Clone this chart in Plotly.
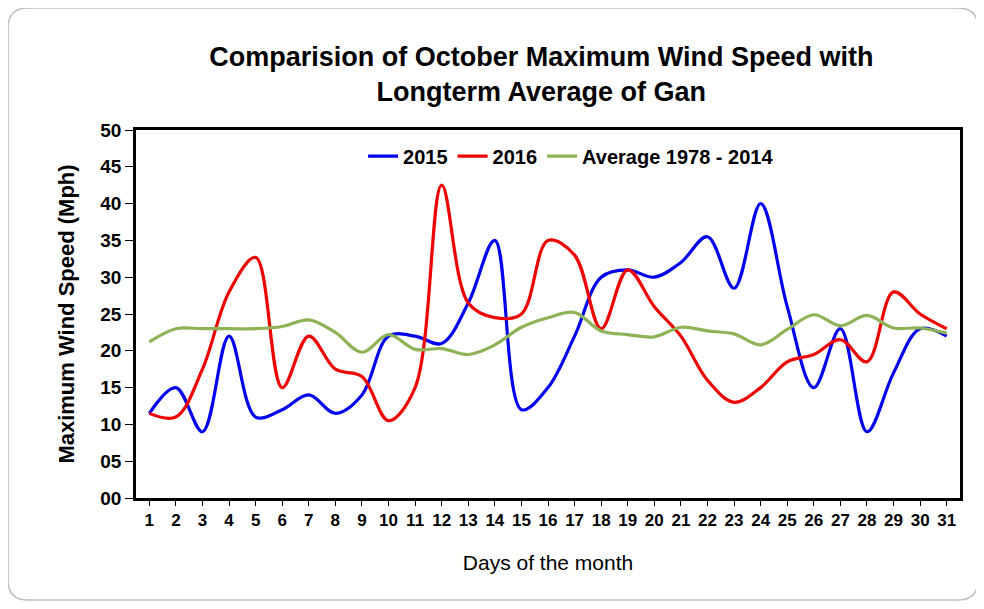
import plotly.graph_objects as go

days = list(range(1, 32))
y2015 = [11.5, 15, 9, 22, 11, 12, 14, 11.5, 14, 22, 22, 21, 26.5, 35, 12, 15, 22, 30, 31, 30,
         32, 35.5, 28.5, 40, 26, 15, 23, 9, 17, 23, 22]
y2016 = [11.5, 11, 17.5, 28, 32.7, 15, 22, 17.5, 16.5, 10.5, 15, 42.5, 26.5, 24.5, 25, 35, 33,
         23, 31, 26, 22, 16, 13, 15, 18.5, 19.5, 21.5, 18.5, 28, 25, 23]
yavg = [21.2, 23, 23, 23, 23, 23.3, 24.2, 22.5, 19.8, 22.2, 20.2, 20.3, 19.5, 20.8, 23.2, 24.5,
        25.2, 22.7, 22.2, 21.9, 23.2, 22.7, 22.3, 20.8, 22.9, 24.9, 23.4, 24.8, 23.1, 23.1, 22.4]
yticks = list(range(0, 51, 5))

font = "Liberation Sans, Arial, sans-serif"

fig = go.Figure()
for name, vals, col in [("2015", y2015, "#0000ee"), ("2016", y2016, "#ee0000"),
                        ("Average 1978 - 2014", yavg, "#8db356")]:
    fig.add_trace(go.Scatter(x=days, y=vals, name=f"<b>{name}</b>", mode="lines",
                             line=dict(color=col, width=3.2, shape="spline", smoothing=1.0)))

# outer rounded frame
x0, x1, y0, y1 = -0.1553, 1.0218, -0.2772, 1.3315
rx, ry = 20 / 824, 20 / 368
path = (f"M {x0+rx} {y1} L {x1-rx} {y1} Q {x1} {y1} {x1} {y1-ry} L {x1} {y0+ry} "
        f"Q {x1} {y0} {x1-rx} {y0} L {x0+rx} {y0} Q {x0} {y0} {x0} {y0+ry} "
        f"L {x0} {y1-ry} Q {x0} {y1} {x0+rx} {y1} Z")
fig.add_shape(type="path", path=path, xref="paper", yref="paper",
              line=dict(color="#bdbdbd", width=1.5), layer="below")

fig.update_layout(
    width=984, height=609,
    margin=dict(l=128, r=32, t=122, b=119),
    paper_bgcolor="white", plot_bgcolor="white",
    font=dict(family=font, color="black"),
    title=dict(text="<b>Comparision of October Maximum Wind Speed with<br>Longterm Average of Gan</b>",
               x=0.542, xanchor="center", y=0.905, yanchor="top",
               font=dict(size=27, family=font)),
    legend=dict(orientation="h", x=0.528, xanchor="center", y=0.929, yanchor="middle",
                font=dict(size=20, family=font, color="black"),
                bgcolor="rgba(0,0,0,0)", tracegroupgap=0),
    showlegend=True,
)
fig.update_xaxes(range=[0.5, 31.5], tickmode="array", tickvals=days,
                 ticktext=[f"<b>{d}</b>" for d in days],
                 tickson="boundaries", ticks="outside", ticklen=5, tickcolor="black",
                 showline=True, linecolor="black", linewidth=2.5, mirror=True,
                 showgrid=False, zeroline=False,
                 tickfont=dict(size=17, family=font),
                 title=dict(text="Days of the month", font=dict(size=21, family=font), standoff=27))
fig.update_yaxes(range=[0, 50], tickmode="array", tickvals=yticks,
                 ticktext=[f"<b>{v:02d}</b>" for v in yticks],
                 ticks="outside", ticklen=8, tickcolor="black",
                 showline=True, linecolor="black", linewidth=2.5, mirror=True,
                 showgrid=False, zeroline=False,
                 tickfont=dict(size=19, family=font),
                 title=dict(text="<b>Maximum Wind Speed (Mph)</b>", font=dict(size=22, family=font),
                            standoff=20))

fig.write_html("out.html")
